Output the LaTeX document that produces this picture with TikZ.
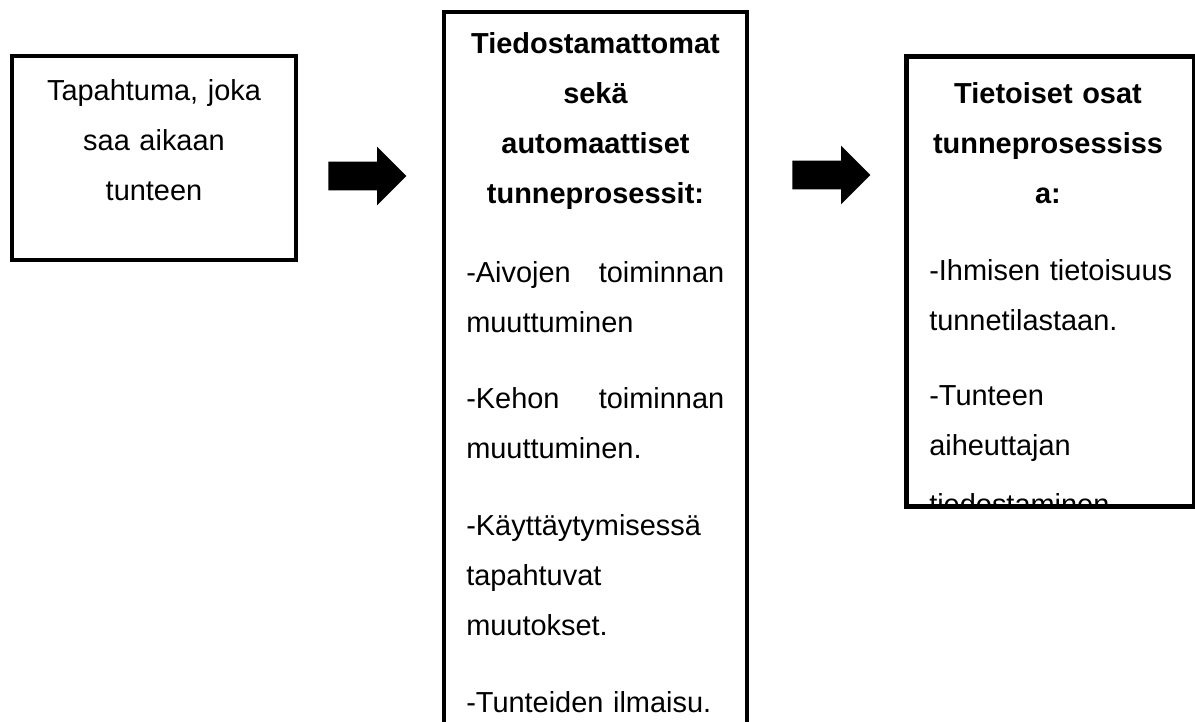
\documentclass[tikz,border=0pt]{standalone}
\usepackage{fontspec}
\setmainfont{Liberation Sans}
\usetikzlibrary{shapes.arrows,positioning}

\begin{document}
\begin{tikzpicture}[
    x=0.75pt, y=-0.75pt,
    box/.style={rectangle, draw=black, line width=3pt, inner sep=0pt},
    txt/.style={inner sep=0pt, font=\fontsize{21.7}{37.5}\selectfont},
    head/.style={inner sep=0pt, font=\fontsize{21.7}{37.5}\selectfont\bfseries, align=center, anchor=base},
    blockarrow/.style={single arrow, fill=black, draw=none, inner xsep=0pt, inner ysep=10.5pt, anchor=tail,
        minimum height=58.5pt, single arrow head extend=11.25pt, single arrow tip angle=90}
]
\useasboundingbox (0,0) rectangle (1195,721);
\clip (0,0) rectangle (1195,721);

% Box 1: the event
\node[box, minimum width=213pt, minimum height=153pt] (event) at (154,158) {};
\node[txt, text width=190pt, align=center, anchor=base] (eventtext) at (154,100)
    {Tapahtuma, joka\\saa aikaan\\tunteen};

% Arrows between the boxes
\node[blockarrow] (arrA) at (328,176) {};
\node[blockarrow] (arrB) at (792,175) {};

% Box 2: unconscious processes (runs off the page)
\node[box, minimum width=227.25pt, minimum height=576pt] (uncon) at (595.5,396) {};
\node[head, text width=193.5pt] (uncontitle) at (595.5,53)
    {Tiedostamattomat\\sekä\\automaattiset\\tunneprosessit:};
\node[txt, text width=193.5pt, align=left, anchor=base west] (unconbody) at (466,282)
    {-Aivojen\hfill toiminnan\\muuttuminen\\[20pt]%
     -Kehon\hfill toiminnan\\muuttuminen.\\[20pt]%
     -Käyttäytymisessä\\tapahtuvat\\muutokset.\\[20pt]%
     -Tunteiden ilmaisu.};

% Box 3: conscious parts, text cut at the lower edge
\node[box, line width=3.75pt, minimum width=216pt, minimum height=337.5pt] (con) at (1050.5,281.5) {};
\begin{scope}
    \clip ([shift={(2.5,2.5)}]con.north west) rectangle ([shift={(-2.5,-2.5)}]con.south east);
    \node[head, text width=190pt] (contitle) at (1048,103)
        {Tietoiset osat\\tunneprosessiss\\a:};
    \node[txt, text width=190pt, align=left, anchor=base west] (conbody) at (929,280)
        {-Ihmisen tietoisuus\\tunnetilastaan.\\[19pt]%
         -Tunteen\\aiheuttajan\\[6.5pt]tiedostaminen};
\end{scope}

\end{tikzpicture}
\end{document}
